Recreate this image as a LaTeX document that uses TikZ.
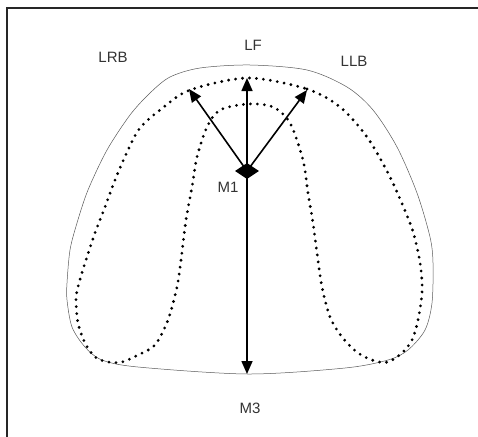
\documentclass[tikz,border=0pt]{standalone}
\usepackage{fontspec}
\setmainfont{Liberation Sans}
\usetikzlibrary{arrows.meta,shapes.geometric}
\begin{document}
\begin{tikzpicture}[x=1pt,y=-1pt,
  lbl/.style={text=black!80, font=\fontsize{15}{17}\selectfont, inner sep=0pt},
  arr/.style={line width=1.6pt, -{Triangle[length=13pt,width=11pt]}},
  outline/.style={draw=black!65, line width=0.5pt},
  dotline/.style={line width=3.1pt, line cap=round, dash pattern=on 0pt off 7pt}]
\useasboundingbox (0,0) rectangle (478,436);
\draw[line width=2pt, black!85] (7,440) -- (7,8) -- (482,8);
% outer thin outline
\draw[outline] plot[smooth cycle, tension=0.5] coordinates {
 (250,65) (307,70) (347,87) (373,110) (397,147) (417,193) (430,237) (433,263)
 (432,303) (425,330) (408,350) (388,360) (345,368) (248,374) (138,367) (102,360)
 (85,347) (72,327) (67,300) (67,283) (70,250) (77,223) (88,190) (107,150)
 (130,115) (150,93) (170,77) (200,68)};
% dotted arch
\draw[dotline] plot[smooth cycle, tension=0.5] coordinates {
 (248,78) (307,89) (340,107) (367,137) (390,177) (410,223) (417,247) (421,270)
 (422,293) (418,320) (412,340) (402,353) (388,362) (375,361) (358,353) (342,337)
 (330,317) (322,287) (317,253) (313,223) (308,193) (303,160) (290,123) (273,107)
 (248,104) (220,110) (207,127) (197,157) (192,187) (186,220) (181,260) (177,287)
 (168,320) (155,345) (138,355) (122,362) (108,362) (95,357) (85,343) (78,323)
 (76,300) (78,287) (85,263) (95,233) (105,207) (115,180) (128,150) (140,128)
 (160,110) (190,90)};
% M1 diamond
\node[diamond, fill=black, inner sep=0pt, minimum width=24pt, minimum height=16pt, aspect=1.5] (m1) at (247,171) {};
\coordinate (tlf) at (247,78);
\coordinate (tlrb) at (189,89);
\coordinate (tllb) at (307,90);
\coordinate (tm3) at (247,374);
\draw[arr] (m1.center) -- (tlf);
\draw[arr] (m1.center) -- (tlrb);
\draw[arr] (m1.center) -- (tllb);
\draw[arr] (m1.center) -- (tm3);
% labels
\node[lbl] (lrb) at (113,57) {LRB};
\node[lbl] (lf) at (253,45) {LF};
\node[lbl] (llb) at (354,61) {LLB};
\node[lbl] (m1l) at (228,187) {M1};
\node[lbl] (m3l) at (250,408) {M3};
\end{tikzpicture}
\end{document}
